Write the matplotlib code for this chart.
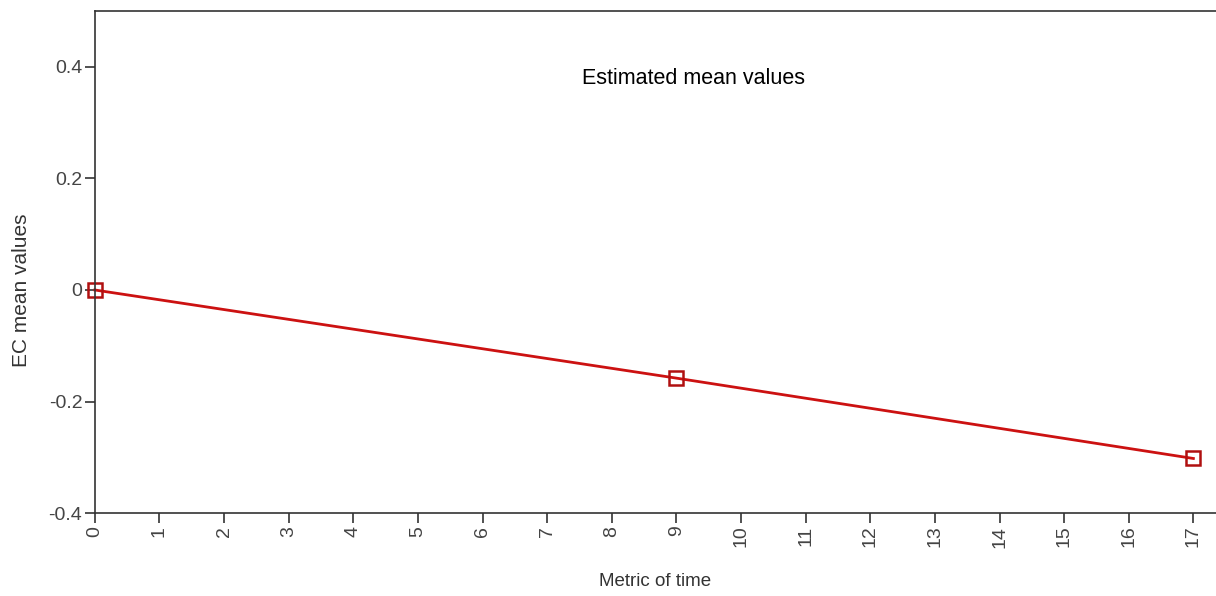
import matplotlib
matplotlib.use('Agg')
import matplotlib.pyplot as plt

# data
time_points = [0, 9, 17]
ec_means = [0.0, -0.158, -0.302]
x_ticks = list(range(0, 18))
y_ticks = [-0.4, -0.2, 0, 0.2, 0.4]
y_tick_labels = ['-0.4', '-0.2', '0', '0.2', '0.4']

plt.rcParams['font.family'] = ['Liberation Sans', 'DejaVu Sans']

fig = plt.figure(figsize=(12.16, 5.96), dpi=100)
ax = fig.add_axes([0.078, 0.139, 0.922, 0.8425])

ax.plot(time_points, ec_means, color='#cc1111', linewidth=2,
        marker='s', markersize=10, markerfacecolor='none',
        markeredgecolor='#b01010', markeredgewidth=1.8, clip_on=False)

ax.set_xlim(0, 17.35)
ax.set_ylim(-0.4, 0.5)
ax.set_xticks(x_ticks)
ax.set_xticklabels([str(t) for t in x_ticks], rotation=90)
ax.set_yticks(y_ticks)
ax.set_yticklabels(y_tick_labels)

for side in ['left', 'bottom', 'top']:
    ax.spines[side].set_color('#333333')
    ax.spines[side].set_linewidth(1.2)
ax.spines['right'].set_visible(False)

ax.tick_params(axis='both', direction='out', length=7, width=1.2,
               color='#333333', labelcolor='#444444', labelsize=14, pad=2)

ax.set_xlabel('Metric of time', fontsize=13.5, color='#333333', labelpad=18)
ax.set_ylabel('EC mean values', fontsize=15, color='#333333')
ax.yaxis.set_label_coords(-0.057, 0.444)

ax.text(0.534, 0.866, 'Estimated mean values', transform=ax.transAxes,
        ha='center', va='center', fontsize=15.5, color='black')

fig.savefig('out.png', dpi=100)
